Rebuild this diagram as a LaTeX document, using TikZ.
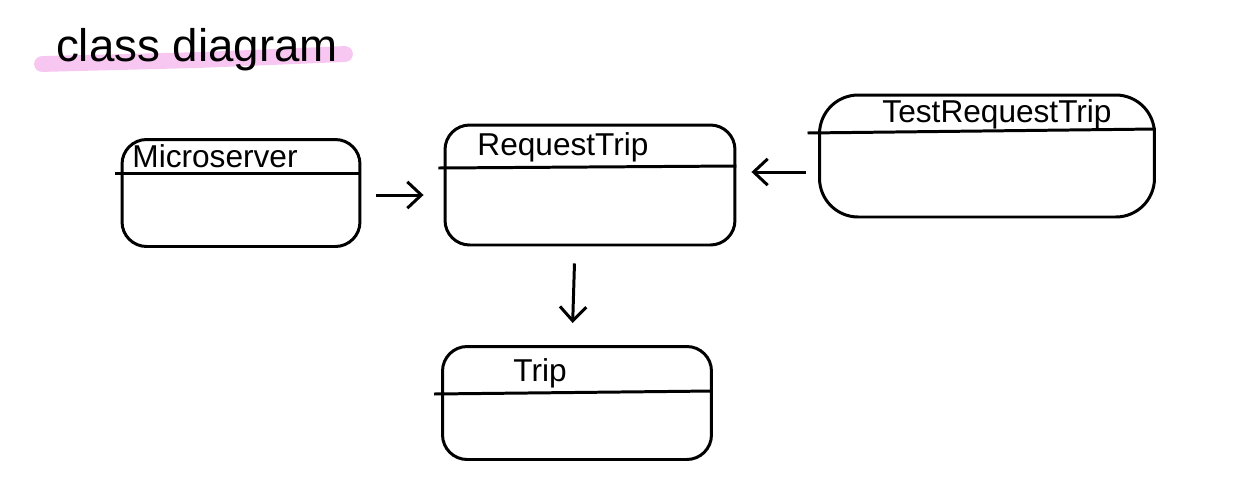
\documentclass[tikz,border=0pt]{standalone}
\usepackage{fontspec}
\setmainfont{Liberation Sans}
\usetikzlibrary{arrows.meta}
\definecolor{hl}{HTML}{F7C6F1}
\begin{document}
\begin{tikzpicture}[x=0.02cm,y=-0.02cm,
  classbox/.style={draw, line width=1.7pt, rounded corners=14pt, inner sep=0pt},
  label/.style={font=\fontsize{18}{20}\selectfont, inner sep=0pt},
  divider/.style={line width=1.7pt},
  arr/.style={line width=1.7pt, -{Straight Barb[length=8pt,width=15pt,line width=1.7pt]}}]
\useasboundingbox (0,0) rectangle (1248,498);
% title
\draw[hl, line width=9pt, line cap=round] (42,64) -- (200,60) -- (345,54);
\node[font=\fontsize{26}{29}\selectfont, inner sep=0pt] (title) at (197,50) {class diagram};
% boxes
\node[classbox, minimum width=4.76cm, minimum height=2.14cm] (ms) at (241,193) {};
\node[classbox, minimum width=5.8cm, minimum height=2.4cm] (rt) at (590,185) {};
\node[classbox, minimum width=6.7cm, minimum height=2.44cm, rounded corners=22pt] (trt) at (987,156) {};
\node[classbox, minimum width=5.38cm, minimum height=2.26cm] (trip) at (577,403) {};
% dividers
\draw[divider] ([xshift=-3pt]ms.west |- 0,173) -- (ms.east |- 0,173);
\draw[divider] ([xshift=-3pt]rt.west |- 0,168) -- (rt.east |- 0,166);
\draw[divider] ([xshift=-6pt]trt.west |- 0,133) -- (trt.east |- 0,129);
\draw[divider] ([xshift=-4pt]trip.west |- 0,394) -- (trip.east |- 0,391);
% labels
\node[label] (msl) at (215,156) {Microserver};
\node[label] (rtl) at (563,147) {RequestTrip};
\node[label] (trtl) at (997,114) {TestRequestTrip};
\node[label] (tripl) at (540,373) {Trip};
% connectors
\draw[arr, shorten <=0.3cm, shorten >=0.4cm] (ms.east |- 0,195) -- (rt.west |- 0,195);
\draw[arr, shorten <=0.24cm, shorten >=0.3cm] (trt.west |- 0,172) -- (rt.east |- 0,172);
\draw[arr, shorten <=0.34cm, shorten >=0.44cm] (rt.south -| 575,0) -- (trip.north -| 572,0);
\end{tikzpicture}
\end{document}
